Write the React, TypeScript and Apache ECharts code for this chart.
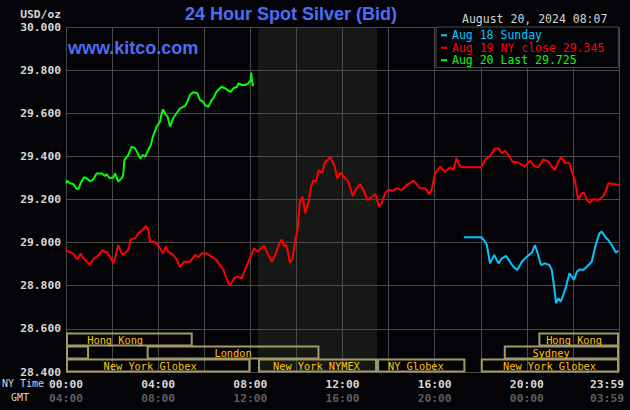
import React, { useEffect, useRef } from "react";
import * as echarts from "echarts";

const MONO = "'DejaVu Sans Mono', 'Liberation Mono', monospace";
const SANS = "'Liberation Sans', Arial, sans-serif";
const BG = "#040308";
const GRID = "#4a4a4a";

const TITLE = "24 Hour Spot Silver (Bid)";
const SITE = "www.kitco.com";
const STAMP = "August 20, 2024 08:07";
const UNIT = "USD/oz";
const ROW_NAMES = ["NY Time", "GMT"];

const seriesNames = ["Aug 18 Sunday", "Aug 19 NY close 29.345", "Aug 20 Last 29.725"];
const seriesColors = ["#00c8ff", "#ff0000", "#00ff00"];

// y axis
const yMin = 28.4;
const yMax = 30.0;
const yStep = 0.2;

// x axis, minutes since 00:00 New York time
const xMin = 0;
const xMax = 1440;
const xGridStep = 120;
const xLabelStep = 240;
const nyTickLabels = ["00:00", "04:00", "08:00", "12:00", "16:00", "20:00", "23:59"];
const gmtTickLabels = ["04:00", "08:00", "12:00", "16:00", "20:00", "00:00", "03:59"];

// Aug 18 (Sunday) evening
const aug18Times = [1036, 1082, 1088, 1096, 1104, 1115, 1126, 1135, 1146, 1156, 1165, 1175, 1187, 1200, 1213, 1221, 1227, 1237, 1247, 1259, 1265, 1271, 1276, 1282, 1288, 1295, 1302, 1311, 1317, 1323, 1330, 1338, 1347, 1356, 1369, 1378, 1389, 1395, 1404, 1412, 1421, 1432, 1438];
const aug18Prices = [29.025, 29.025, 29.012, 28.989, 28.904, 28.943, 28.904, 28.927, 28.938, 28.911, 28.888, 28.873, 28.911, 28.935, 28.953, 28.989, 28.958, 28.896, 28.904, 28.896, 28.873, 28.796, 28.719, 28.742, 28.726, 28.757, 28.796, 28.858, 28.842, 28.827, 28.865, 28.876, 28.873, 28.888, 28.911, 28.981, 29.043, 29.051, 29.027, 29.012, 28.989, 28.953, 28.963];

// Aug 19
const aug19Times = [0, 10, 19, 28, 32, 38, 45, 54, 62, 71, 82, 89, 95, 102, 106, 115, 123, 130, 136, 141, 147, 158, 164, 168, 180, 188, 200, 208, 214, 219, 227, 236, 245, 253, 260, 266, 279, 288, 297, 307, 323, 336, 345, 353, 366, 379, 392, 401, 410, 418, 425, 431, 437, 446, 458, 464, 475, 484, 490, 499, 512, 516, 525, 536, 545, 554, 562, 568, 573, 577, 583, 590, 597, 603, 609, 616, 623, 632, 638, 644, 651, 658, 667, 673, 681, 688, 694, 700, 706, 715, 727, 735, 747, 755, 766, 774, 785, 793, 805, 809, 815, 822, 831, 839, 851, 861, 874, 887, 904, 911, 922, 935, 946, 952, 961, 974, 987, 1000, 1009, 1017, 1024, 1031, 1082, 1091, 1104, 1117, 1126, 1135, 1143, 1149, 1163, 1178, 1195, 1208, 1219, 1230, 1243, 1256, 1265, 1273, 1280, 1289, 1299, 1311, 1317, 1325, 1334, 1343, 1349, 1356, 1363, 1373, 1386, 1398, 1405, 1412, 1425, 1440];
const aug19Prices = [28.966, 28.955, 28.950, 28.923, 28.927, 28.950, 28.927, 28.911, 28.899, 28.923, 28.938, 28.950, 28.966, 28.953, 28.958, 28.935, 28.904, 28.943, 28.989, 28.966, 28.943, 28.958, 28.974, 29.015, 29.020, 29.043, 29.059, 29.077, 29.059, 29.004, 29.004, 28.997, 28.974, 28.950, 28.981, 28.958, 28.943, 28.923, 28.888, 28.911, 28.911, 28.943, 28.932, 28.950, 28.950, 28.935, 28.919, 28.896, 28.873, 28.834, 28.803, 28.811, 28.834, 28.842, 28.834, 28.865, 28.911, 28.950, 28.974, 28.958, 28.981, 28.984, 28.950, 28.911, 28.943, 28.989, 29.015, 28.984, 28.989, 28.966, 28.907, 28.927, 29.012, 29.059, 29.190, 29.213, 29.136, 29.190, 29.259, 29.290, 29.283, 29.337, 29.321, 29.368, 29.383, 29.398, 29.375, 29.352, 29.298, 29.324, 29.298, 29.283, 29.216, 29.247, 29.272, 29.244, 29.198, 29.206, 29.225, 29.206, 29.167, 29.182, 29.229, 29.244, 29.241, 29.252, 29.244, 29.267, 29.287, 29.275, 29.252, 29.252, 29.225, 29.244, 29.321, 29.352, 29.329, 29.348, 29.337, 29.392, 29.360, 29.350, 29.350, 29.383, 29.402, 29.437, 29.437, 29.414, 29.426, 29.414, 29.375, 29.371, 29.352, 29.380, 29.355, 29.349, 29.386, 29.375, 29.352, 29.337, 29.368, 29.396, 29.371, 29.368, 29.329, 29.290, 29.198, 29.229, 29.232, 29.198, 29.185, 29.201, 29.198, 29.213, 29.236, 29.275, 29.272, 29.267];

// Aug 20 (today, to 08:07)
const aug20Times = [0, 3, 10, 19, 26, 32, 38, 47, 54, 64, 71, 80, 93, 102, 106, 113, 123, 128, 136, 145, 149, 152, 162, 171, 180, 186, 193, 200, 206, 214, 221, 226, 236, 245, 249, 253, 260, 264, 271, 279, 288, 297, 310, 316, 323, 331, 342, 349, 356, 362, 371, 379, 385, 392, 405, 414, 423, 429, 436, 445, 449, 458, 466, 475, 481, 482, 484, 487];
const aug20Prices = [29.275, 29.287, 29.275, 29.272, 29.252, 29.247, 29.275, 29.303, 29.298, 29.283, 29.294, 29.321, 29.321, 29.309, 29.317, 29.300, 29.301, 29.321, 29.283, 29.298, 29.314, 29.383, 29.406, 29.445, 29.437, 29.417, 29.391, 29.406, 29.398, 29.430, 29.453, 29.491, 29.538, 29.561, 29.600, 29.618, 29.592, 29.587, 29.538, 29.577, 29.600, 29.623, 29.634, 29.654, 29.685, 29.697, 29.693, 29.661, 29.654, 29.638, 29.630, 29.661, 29.674, 29.700, 29.723, 29.716, 29.705, 29.699, 29.716, 29.723, 29.739, 29.731, 29.731, 29.739, 29.754, 29.788, 29.754, 29.725];

// COMEX pit session shading (minutes)
const pitSession = [500, 810];

// market sessions (row 0 = bottom)
const sessionNames = ["Hong Kong", "Hong Kong", "", "London", "Sydney", "New York Globex", "New York NYMEX", "NY Globex", "New York Globex"];
const sessionStart = [0, 1230, 0, 210, 1140, 0, 500, 810, 1080];
const sessionEnd = [330, 1440, 60, 660, 1440, 480, 810, 1040, 1440];
const sessionRow = [2, 2, 1, 1, 1, 0, 0, 0, 0];
const sessionLabelAt = [128, 1323, 30, 435, 1263, 219, 652, 911, 1259];

const zip = (t: number[], p: number[]) => t.map((v, i) => [v, p[i]]);

export default function App() {
  const ref = useRef<HTMLDivElement>(null);

  useEffect(() => {
    if (!ref.current) return;
    const chart = echarts.init(ref.current, null, { renderer: "svg" });

    const axisLabelA = { color: "#d8d8d8", fontFamily: MONO, fontWeight: "bold", fontSize: 11.3, lineHeight: 14 };
    const axisLabelB = { color: "#5e5e5e", fontFamily: MONO, fontWeight: "bold", fontSize: 11.3, lineHeight: 14 };

    const seriesData = [zip(aug18Times, aug18Prices), zip(aug19Times, aug19Prices), zip(aug20Times, aug20Prices)];

    const option: any = {
      animation: false,
      backgroundColor: BG,
      title: [
        {
          text: TITLE, left: 185, top: 5, padding: 0,
          textStyle: { color: "#4d6df5", fontFamily: SANS, fontWeight: "bold", fontSize: 18 },
        },
        {
          text: SITE, left: 68, top: 39, padding: 0,
          textStyle: { color: "#4d6df5", fontFamily: SANS, fontWeight: "bold", fontSize: 18 },
        },
        {
          text: STAMP, left: 462, top: 13, padding: 0,
          textStyle: { color: "#d4d4d4", fontFamily: MONO, fontWeight: "normal", fontSize: 11.5 },
        },
      ],
      legend: {
        orient: "vertical",
        left: 436,
        top: 27,
        selectedMode: false,
        backgroundColor: BG,
        borderColor: GRID,
        borderWidth: 1,
        padding: [2, 14, 1, 5],
        itemGap: 0,
        itemWidth: 6,
        itemHeight: 2,
        icon: "rect",
        textStyle: { fontFamily: MONO, fontSize: 11.5, lineHeight: 12.5 },
        data: seriesNames.map((n, i) => ({ name: n, textStyle: { color: seriesColors[i] } })),
      },
      grid: { left: 66, right: 11, top: 27, bottom: 38, containLabel: false, outerBoundsMode: "none" },
      xAxis: {
        type: "value",
        min: xMin,
        max: xMax,
        interval: xGridStep,
        z: 1,
        axisLine: { show: true, lineStyle: { color: GRID, width: 1 } },
        axisTick: { show: false },
        splitLine: { show: true, lineStyle: { color: GRID, width: 1 } },
        axisLabel: {
          margin: 5,
          hideOverlap: false,
          formatter: (v: number) => {
            if (v % xLabelStep !== 0) return "";
            const i = Math.round(v / xLabelStep);
            if (i === nyTickLabels.length - 1) return `{c|${nyTickLabels[i]}}\n{d|${gmtTickLabels[i]}}`;
            return `{a|${nyTickLabels[i]}}\n{b|${gmtTickLabels[i]}}`;
          },
          rich: {
            a: axisLabelA,
            b: axisLabelB,
            c: { ...axisLabelA, padding: [0, 24, 0, 0] },
            d: { ...axisLabelB, padding: [0, 24, 0, 0] },
          },
        },
      },
      yAxis: {
        type: "value",
        min: yMin,
        max: yMax,
        interval: yStep,
        z: 1,
        name: UNIT,
        nameLocation: "end",
        nameGap: 13,
        nameTextStyle: { color: "#d4d4d4", fontFamily: MONO, fontSize: 11.3, fontWeight: "bold", align: "right", verticalAlign: "middle", padding: [0, 5, 0, 0] },
        axisLine: { show: true, lineStyle: { color: GRID, width: 1 } },
        axisTick: { show: false },
        splitLine: { show: true, lineStyle: { color: GRID, width: 1 } },
        axisLabel: {
          margin: 5,
          color: "#d8d8d8",
          fontFamily: MONO,
          fontWeight: "bold",
          fontSize: 11.3,
          formatter: (v: number) => v.toFixed(3),
        },
      },
      graphic: [
        { type: "text", left: 2, top: 378, style: { text: ROW_NAMES[0], fill: "#d4d4d4", font: `10px ${MONO}` } },
        { type: "text", left: 11, top: 392, style: { text: ROW_NAMES[1], fill: "#d4d4d4", font: `10px ${MONO}` } },
      ],
      series: [
        {
          type: "custom",
          name: "pit",
          z: 0,
          silent: true,
          clip: true,
          data: [[pitSession[0], pitSession[1], yMin, yMax]],
          encode: { x: [0, 1], y: [2, 3] },
          renderItem: (params: any, api: any) => {
            const a = api.coord([api.value(0), api.value(3)]);
            const b = api.coord([api.value(1), api.value(2)]);
            return { type: "rect", shape: { x: a[0], y: a[1], width: b[0] - a[0], height: b[1] - a[1] }, style: { fill: "#151815" } };
          },
        },
        ...seriesNames.map((n, i) => ({
          type: "line",
          name: n,
          z: 3,
          data: seriesData[i],
          showSymbol: false,
          symbol: "none",
          color: seriesColors[i],
          lineStyle: { color: seriesColors[i], width: 2 },
        })),
        {
          type: "custom",
          name: "sessions",
          z: 2,
          silent: true,
          clip: false,
          data: sessionStart.map((s, i) => [s, sessionEnd[i], yMin, sessionRow[i]]),
          encode: { x: [0, 1], y: 2 },
          renderItem: (params: any, api: any) => {
            const i = params.dataIndex;
            const s = api.coord([api.value(0), api.value(2)]);
            const e = api.coord([api.value(1), api.value(2)]);
            const row = api.value(3);
            const cs = params.coordSys;
            const bottom = cs.y + cs.height;
            const top = bottom - (row + 1) * 13 + 0.5;
            const lx = api.coord([sessionLabelAt[i], api.value(2)])[0];
            return {
              type: "group",
              children: [
                { type: "rect", shape: { x: s[0] + 1, y: top, width: e[0] - s[0] - 2, height: 12 }, style: { fill: "none", stroke: "#a09a68", lineWidth: 2 } },
                { type: "text", style: { text: sessionNames[i], x: lx, y: top + 6.5, align: "center", verticalAlign: "middle", fill: "#ffc400", font: `10.3px ${MONO}` } },
              ],
            };
          },
        },
      ],
    };

    chart.setOption(option);
    return () => chart.dispose();
  }, []);

  return <div ref={ref} style={{ position: "fixed", left: 0, top: 0, width: 630, height: 410 }} />;
}
